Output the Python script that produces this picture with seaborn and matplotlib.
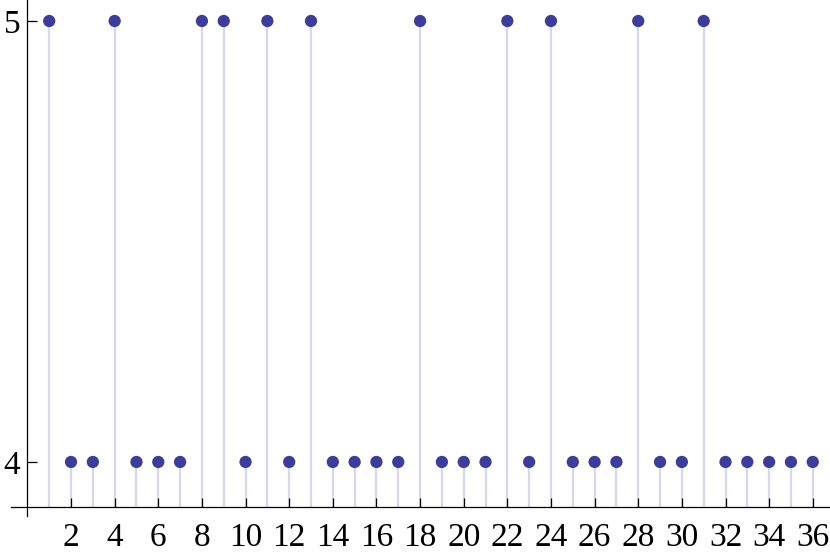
import matplotlib
matplotlib.use("Agg")
import matplotlib.pyplot as plt
import seaborn as sns
import pandas as pd

n_values = list(range(1, 37))
values = [5, 4, 4, 5, 4, 4, 4, 5, 5, 4, 5, 4, 5, 4, 4, 4, 4, 5,
          4, 4, 4, 5, 4, 5, 4, 4, 4, 5, 4, 4, 5, 4, 4, 4, 4, 4]
x_ticks = list(range(2, 37, 2))
y_ticks = [4, 5]

df = pd.DataFrame({"n": n_values, "value": values})

sns.set_theme(style="white")
plt.rcParams["font.family"] = ["Liberation Serif", "DejaVu Serif"]

fig = plt.figure(figsize=(8.3, 5.55), dpi=100)
ax = fig.add_axes([0, 0, 1, 1])
ax.set_facecolor("white")
ax.set_axisbelow(False)

base = 3.898
dot_color = (0.24, 0.24, 0.6)
stem_color = "#d8d8eb"

ax.vlines(df["n"], base, df["value"], color=stem_color, linewidth=1.6, zorder=1)
sns.scatterplot(data=df, x="n", y="value", ax=ax, color=dot_color, s=78,
                edgecolor="none", zorder=3, legend=False)

ax.set_xlim(-1.256, 36.79)
ax.set_ylim(3.789, 5.0476)

for side in ["top", "right"]:
    ax.spines[side].set_visible(False)
ax.spines["left"].set_position(("data", 0))
ax.spines["bottom"].set_position(("data", base))
ax.spines["left"].set_bounds(3.878, 5.0476)
ax.spines["bottom"].set_bounds(-0.73, 36.79)
for side in ["left", "bottom"]:
    ax.spines[side].set_color("black")
    ax.spines[side].set_linewidth(0.9)
    ax.spines[side].set_zorder(2.5)

ax.set_xticks(x_ticks)
ax.set_xticklabels([str(t) for t in x_ticks])
ax.set_yticks(y_ticks)
ax.set_yticklabels([str(t) for t in y_ticks])
ax.tick_params(axis="x", direction="in", length=6.5, width=0.9, color="black",
               labelsize=24, pad=11, bottom=True, labelcolor="black")
ax.tick_params(axis="y", direction="in", length=7.5, width=0.9, color="black",
               labelsize=24, pad=5, left=True, labelcolor="black")
ax.set_xlabel("")
ax.set_ylabel("")
ax.grid(False)

fig.savefig("out.png", dpi=100)
